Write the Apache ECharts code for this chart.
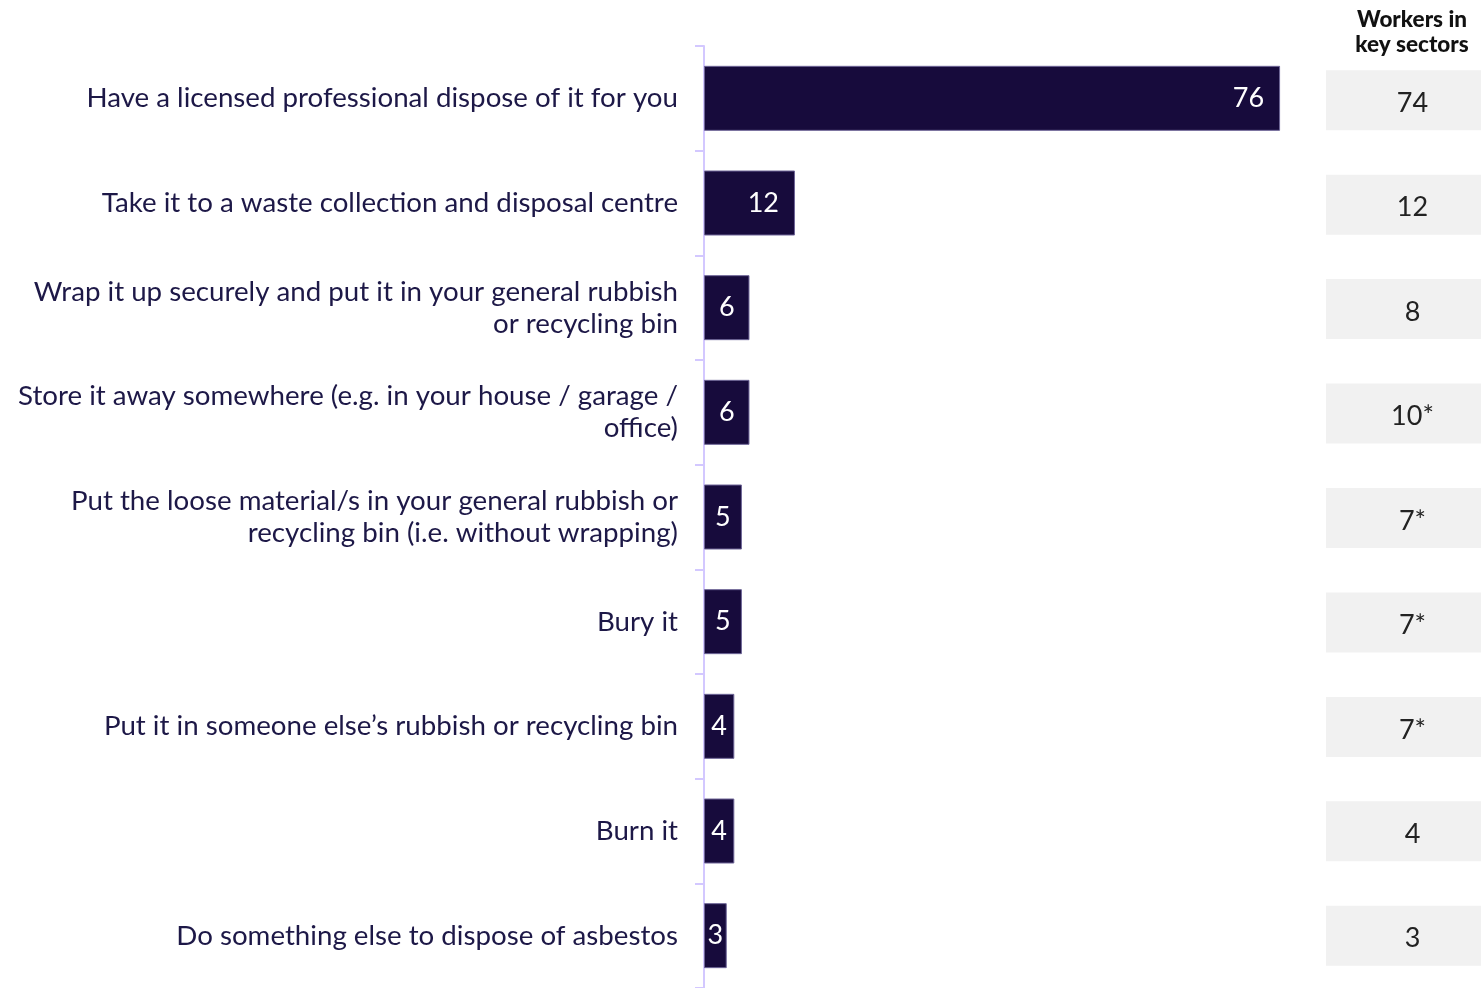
<!DOCTYPE html>
<html>
<head>
<meta charset="utf-8">
<script src="https://cdn.jsdelivr.net/npm/echarts@6/dist/echarts.min.js"></script>
<style>
  html, body { margin: 0; padding: 0; background: #ffffff; }
  #chart { width: 1481px; height: 988px; }
</style>
</head>
<body>
<div id="chart"></div>
<script>
// Ways of disposing of asbestos (%), all respondents vs workers in key sectors
const categories = [
  'Have a licensed professional dispose of it for you',
  'Take it to a waste collection and disposal centre',
  'Wrap it up securely and put it in your general rubbish\nor recycling bin',
  'Store it away somewhere (e.g. in your house / garage /\noffice)',
  'Put the loose material/s in your general rubbish or\nrecycling bin (i.e. without wrapping)',
  'Bury it',
  'Put it in someone else\u2019s rubbish or recycling bin',
  'Burn it',
  'Do something else to dispose of asbestos'
];
const allValues = [76, 12, 6, 6, 5, 5, 4, 4, 3];
const keySectorValues = [74, 12, 8, 10, 7, 7, 7, 4, 3];
// an asterisk marks a significant difference from all respondents
const keySectorFlags = [false, false, false, true, true, true, true, false, false];
const keySectorTitle = 'Workers in\nkey sectors';

const NAVY = '#170b3c';
const TEXT = '#1d1847';
const FONT = 'Lato, "Noto Sans", sans-serif';

const chart = echarts.init(document.getElementById('chart'), null, { renderer: 'canvas' });

// wide bars carry their value at the inner end, narrow ones in the middle
const mainData = allValues.map(v => ({
  value: v,
  label: v >= 10
    ? { position: 'insideRight', distance: 16 }
    : { position: 'inside' }
}));

// key-sector column: equal grey cells holding the percentages
const sideData = keySectorValues.map((v, i) => ({
  value: 1,
  label: { formatter: String(v) + (keySectorFlags[i] ? '*' : '') }
}));

chart.setOption({
  animation: false,
  backgroundColor: '#ffffff',
  title: {
    text: keySectorTitle,
    left: 1407,
    top: 2,
    textAlign: 'center',
    textStyle: {
      fontFamily: FONT,
      fontSize: 22.5,
      fontWeight: 900,
      color: '#111111',
      lineHeight: 25
    }
  },
  grid: [
    { left: 704, top: 46, width: 758, height: 945, containLabel: false },
    { left: 1326, top: 48, width: 155, height: 943, containLabel: false }
  ],
  xAxis: [
    { gridIndex: 0, type: 'value', min: 0, max: 100, show: false },
    { gridIndex: 1, type: 'value', min: 0, max: 1, show: false }
  ],
  yAxis: [
    {
      gridIndex: 0,
      type: 'category',
      data: categories,
      inverse: true,
      axisLine: { show: true, lineStyle: { color: '#d3c8ff', width: 2 } },
      axisTick: { show: true, length: 9, lineStyle: { color: '#d3c8ff', width: 2 } },
      axisLabel: {
        margin: 26,
        color: TEXT,
        fontFamily: FONT,
        fontSize: 27.7,
        lineHeight: 32,
        align: 'right'
      },
      splitLine: { show: false }
    },
    {
      gridIndex: 1,
      type: 'category',
      data: categories,
      inverse: true,
      show: false
    }
  ],
  series: [
    {
      type: 'bar',
      xAxisIndex: 0,
      yAxisIndex: 0,
      data: mainData,
      barWidth: 65,
      itemStyle: { color: NAVY, borderColor: '#6e6597', borderWidth: 1 },
      label: {
        show: true,
        color: '#ffffff',
        fontFamily: FONT,
        fontSize: 27
      }
    },
    {
      type: 'bar',
      xAxisIndex: 1,
      yAxisIndex: 1,
      data: sideData,
      barWidth: 60,
      itemStyle: { color: '#f1f1f1' },
      label: {
        show: true,
        position: 'inside',
        offset: [9, 3],
        color: '#222222',
        fontFamily: FONT,
        fontSize: 27
      },
      silent: true
    }
  ]
});
</script>
</body>
</html>
